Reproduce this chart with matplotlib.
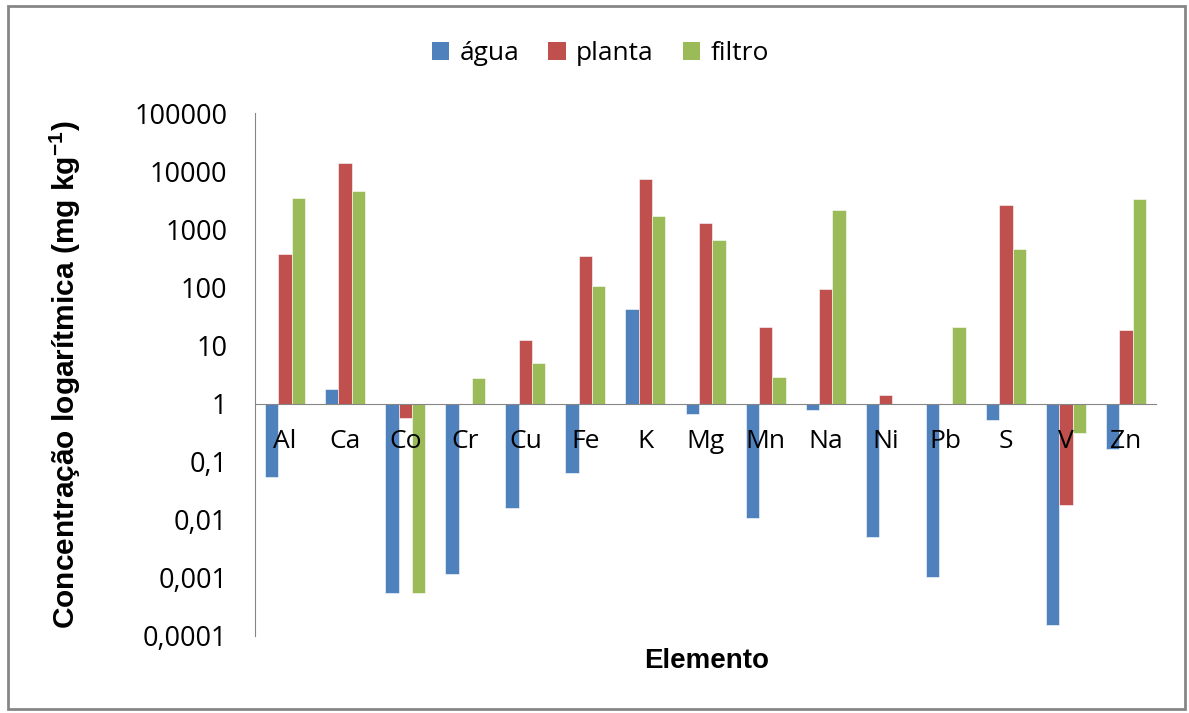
import matplotlib.pyplot as plt
import numpy as np
from matplotlib.patches import Patch, Rectangle
from matplotlib.ticker import FixedLocator, FixedFormatter

elementos = ['Al', 'Ca', 'Co', 'Cr', 'Cu', 'Fe', 'K', 'Mg', 'Mn', 'Na',
             'Ni', 'Pb', 'S', 'V', 'Zn']
agua = [0.054, 1.8, 0.00055, 0.00118, 0.016, 0.064, 42, 0.65, 0.0108, 0.77,
        0.0051, 0.00104, 0.52, 0.000155, 0.165]
planta = [380, 13900, 0.56, 1, 12.5, 340, 7300, 1280, 21, 94,
          1.38, 1, 2600, 0.018, 18.5]
filtro = [3450, 4600, 0.00055, 2.75, 4.9, 105, 1700, 645, 2.9, 2180,
          1, 21, 450, 0.31, 3250]
series = ['água', 'planta', 'filtro']
cores = ['#4F81BD', '#C0504D', '#9BBB59']
yticks = [0.0001, 0.001, 0.01, 0.1, 1, 10, 100, 1000, 10000, 100000]
ylabels = ['0,0001', '0,001', '0,01', '0,1', '1', '10', '100', '1000',
           '10000', '100000']

plt.rcParams['font.family'] = ['Open Sans', 'DejaVu Sans']
plt.rcParams['mathtext.fontset'] = 'custom'
plt.rcParams['mathtext.bf'] = 'Liberation Sans:bold'
plt.rcParams['mathtext.rm'] = 'Liberation Sans:bold'

fig = plt.figure(figsize=(11.89, 7.13), dpi=100)
ax = fig.add_axes([0.2145, 0.108, 0.7578, 0.7335])

x = np.arange(len(elementos))
w = 0.222
for k, (vals, cor) in enumerate(zip([agua, planta, filtro], cores)):
    vals = np.array(vals, dtype=float)
    ax.bar(x + (k - 1) * w, vals - 1, bottom=1, width=w, color=cor,
           edgecolor='white', linewidth=0.4)

ax.set_yscale('log')
ax.set_ylim(1e-4, 1e5)
ax.set_xlim(-0.5, len(elementos) - 0.5)
ax.yaxis.set_major_locator(FixedLocator(yticks))
ax.yaxis.set_major_formatter(FixedFormatter(ylabels))
ax.yaxis.set_minor_locator(FixedLocator([]))
ax.set_xticks(x)
ax.set_xticklabels(elementos)

for s in ['top', 'right']:
    ax.spines[s].set_visible(False)
ax.spines['left'].set_color('#868686')
ax.spines['bottom'].set_color('#868686')
ax.spines['bottom'].set_position(('data', 1))
ax.tick_params(axis='y', labelsize=19.5, length=0, pad=20)
ax.tick_params(axis='x', labelsize=19, length=0, pad=18)

fig.text(0.055, 0.474, 'Concentração logarítmica (mg kg$^{\\mathbf{-1}}$)',
         rotation=90, ha='center', va='center', fontsize=21.5,
         fontweight='bold', family='Liberation Sans')
fig.text(0.594, 0.073, 'Elemento', ha='center', va='center',
         fontsize=20, fontweight='bold', family='Liberation Sans')

handles = [Patch(facecolor=c) for c in cores]
fig.legend(handles, series, loc='center', bbox_to_anchor=(0.505, 0.925),
           ncol=3, frameon=False, fontsize=19, handlelength=0.65,
           handleheight=0.65, handletextpad=0.4, columnspacing=1.1)

fig.patches.append(Rectangle((0.007, 0.006), 0.99, 0.986,
                             transform=fig.transFigure, fill=False,
                             edgecolor='#868686', linewidth=2))

fig.savefig('out.png', dpi=100)
